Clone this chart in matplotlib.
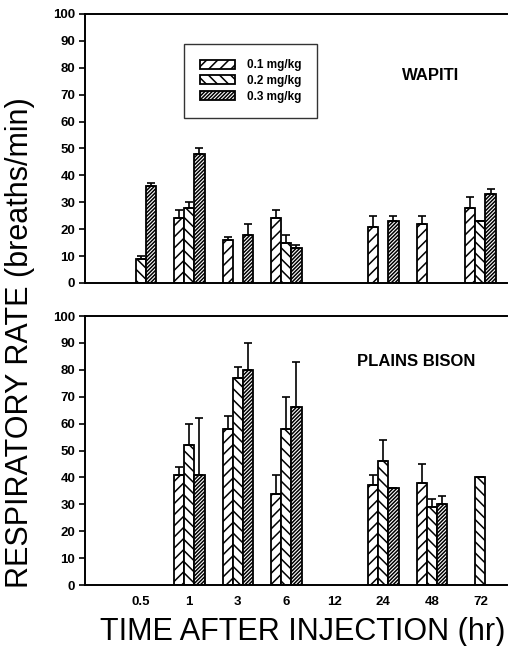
import numpy as np
import matplotlib
matplotlib.use("Agg")
import matplotlib.pyplot as plt

plt.rcParams['font.family'] = ['Liberation Sans', 'DejaVu Sans']
plt.rcParams['hatch.linewidth'] = 1.1

times = ["0.5", "1", "3", "6", "12", "24", "48", "72"]
doses = ["0.1 mg/kg", "0.2 mg/kg", "0.3 mg/kg"]

# wapiti: means and top of error bar (nan = no data)
wap_01 = [np.nan, 24, 16, 24, np.nan, 21, 22, 28]
wap_01_hi = [np.nan, 27, 17, 27, np.nan, 25, 25, 32]
wap_02 = [9, 28, np.nan, 15, np.nan, np.nan, np.nan, 23]
wap_02_hi = [10, 30, np.nan, 18, np.nan, np.nan, np.nan, 23]
wap_03 = [36, 48, 18, 13, np.nan, 23, np.nan, 33]
wap_03_hi = [37, 50, 22, 14, np.nan, 25, np.nan, 35]

# plains bison
bis_01 = [np.nan, 41, 58, 34, np.nan, 37, 38, np.nan]
bis_01_hi = [np.nan, 44, 63, 41, np.nan, 41, 45, np.nan]
bis_02 = [np.nan, 52, 77, 58, np.nan, 46, 29, 40]
bis_02_hi = [np.nan, 60, 81, 70, np.nan, 54, 32, 40]
bis_03 = [np.nan, 41, 80, 66, np.nan, 36, 30, np.nan]
bis_03_hi = [np.nan, 62, 90, 83, np.nan, 36, 33, np.nan]

hatches = ['///', '\\\\\\', '/////////']
width = 0.21

W, H = 508, 646
fig = plt.figure(figsize=(W / 100, H / 100), dpi=100)


def panel(ax, series, label_txt, tx, ty, show_x):
    x = np.arange(len(times))
    for i, (vals, hi) in enumerate(series):
        vals = np.array(vals, dtype=float)
        hi = np.array(hi, dtype=float)
        m = ~np.isnan(vals)
        xs = x[m] + (i - 1) * width
        ax.bar(xs, vals[m], width=width, color='white', edgecolor='black',
               linewidth=1.3, hatch=hatches[i], label=doses[i])
        up = hi[m] - vals[m]
        ax.errorbar(xs, vals[m], yerr=[np.zeros_like(up), up], fmt='none',
                    ecolor='black', elinewidth=1.2, capsize=3, capthick=1.2)
    ax.set_xlim(-1.15, 7.55)
    ax.set_ylim(0, 100)
    ax.set_yticks(np.arange(0, 101, 10))
    ax.spines['right'].set_visible(False)
    for s in ['left', 'bottom', 'top']:
        ax.spines[s].set_linewidth(1.4)
    ax.tick_params(axis='y', direction='out', length=4, width=1.2, labelsize=9.5,
                   pad=3)
    for t in ax.get_yticklabels():
        t.set_fontweight('bold')
    ax.set_xticks(x)
    if show_x:
        ax.set_xticklabels(times, fontsize=9.5, fontweight='bold')
        ax.tick_params(axis='x', length=0, pad=8)
    else:
        ax.set_xticklabels([])
        ax.tick_params(axis='x', length=0)
    ax.text(tx, ty, label_txt, ha='center', va='center', fontsize=12,
            fontweight='bold')


ax1 = fig.add_axes([85 / W, 1 - 283 / H, 422 / W, 269 / H])
panel(ax1, [(wap_01, wap_01_hi), (wap_02, wap_02_hi), (wap_03, wap_03_hi)],
      "WAPITI", 5.98, 77, False)
leg = ax1.legend(loc='upper left', bbox_to_anchor=(0.235, 0.888),
                 prop={'size': 8.5, 'weight': 'bold'}, frameon=True, fancybox=False,
                 edgecolor='black', handlelength=3.0, handleheight=0.8,
                 labelspacing=0.3, borderpad=1.3, handletextpad=1.0,
                 borderaxespad=0)
leg.get_frame().set_linewidth(1.0)

ax2 = fig.add_axes([85 / W, 1 - 585 / H, 422 / W, 269 / H])
panel(ax2, [(bis_01, bis_01_hi), (bis_02, bis_02_hi), (bis_03, bis_03_hi)],
      "PLAINS BISON", 5.67, 83, True)

fig.text(20 / W, 1 - 343 / H, "RESPIRATORY RATE (breaths/min)", rotation=90,
         ha='center', va='center', fontsize=22)
fig.text(303 / W, 1 - 632 / H, "TIME AFTER INJECTION (hr)", ha='center',
         va='center', fontsize=22)

fig.savefig("out.png", dpi=100)
